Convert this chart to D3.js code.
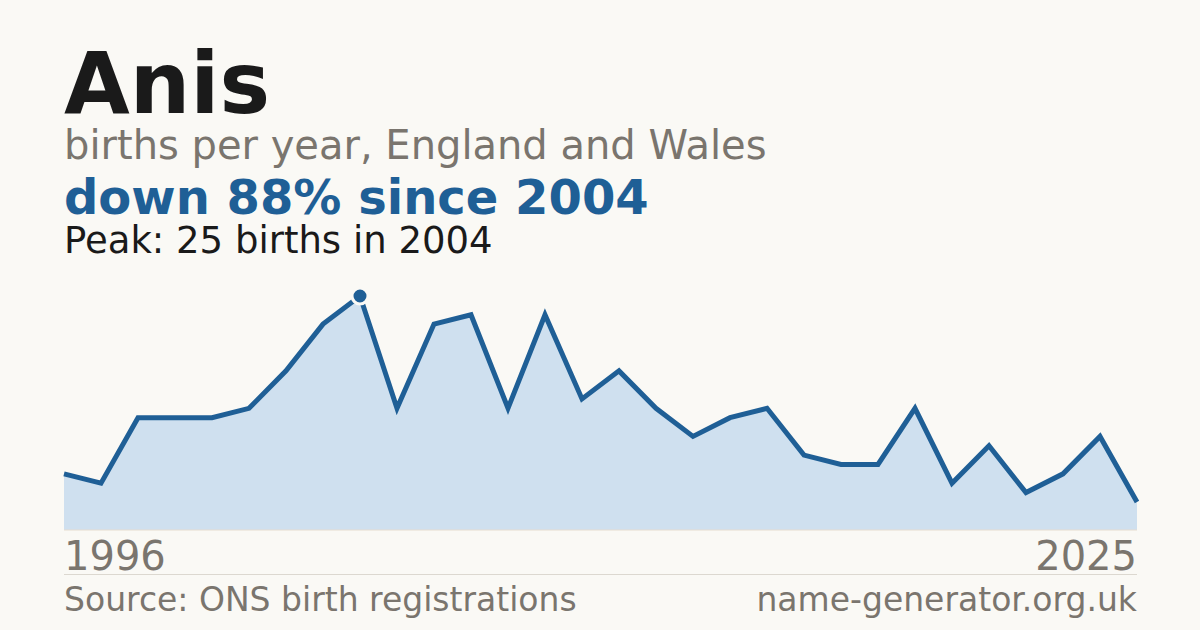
<!DOCTYPE html>
<html>
<head>
<meta charset="utf-8">
<script src="https://cdn.jsdelivr.net/npm/d3@7"></script>
<style>
  html, body { margin: 0; padding: 0; background: #faf9f5; }
  svg { display: block; font-family: "DejaVu Sans", sans-serif; }
</style>
</head>
<body>
<svg id="chart" width="1200" height="630"></svg>
<script>
const years = d3.range(1996, 2026);
const births = [6, 5, 12, 12, 12, 13, 17, 22, 25, 13, 22, 23, 13, 23, 14, 17, 13, 10, 12, 13, 8, 7, 7, 13, 5, 9, 4, 6, 10, 3];
const babyName = 'Anis';
const subtitle = 'births per year, England and Wales';
const headline = 'down 88% since 2004';
const peakNote = 'Peak: 25 births in 2004';
const sourceNote = 'Source: ONS birth registrations';
const siteNote = 'name-generator.org.uk';

const svg = d3.select('#chart');
const plotLeft = 64, plotRight = 1137, plotTop = 296, plotBottom = 530;

const x = d3.scaleLinear().domain([years[0], years[years.length - 1]]).range([plotLeft, plotRight]);
const y = d3.scaleLinear().domain([0, d3.max(births)]).range([plotBottom, plotTop]);

const data = years.map((yr, i) => ({ year: yr, value: births[i] }));

// header text
svg.append('text').attr('x', 64).attr('y', 113)
  .attr('font-size', 85).attr('font-weight', 'bold').attr('fill', '#1a1a1a').text(babyName);
svg.append('text').attr('x', 64).attr('y', 159)
  .attr('font-size', 40).attr('fill', '#7a756e').text(subtitle);
svg.append('text').attr('x', 64).attr('y', 214)
  .attr('font-size', 48).attr('font-weight', 'bold').attr('fill', '#1f5f96').text(headline);
svg.append('text').attr('x', 64).attr('y', 253)
  .attr('font-size', 37).attr('fill', '#1a1a1a').text(peakNote);

// area + line
const area = d3.area()
  .x(d => x(d.year))
  .y0(plotBottom)
  .y1(d => y(d.value));

const line = d3.line()
  .x(d => x(d.year))
  .y(d => y(d.value));

svg.append('path').datum(data)
  .attr('d', area)
  .attr('fill', '#cfe0ef');

svg.append('line')
  .attr('x1', plotLeft).attr('x2', plotRight)
  .attr('y1', plotBottom).attr('y2', plotBottom)
  .attr('stroke', '#e6ddd0').attr('stroke-width', 1);

svg.append('path').datum(data)
  .attr('d', line)
  .attr('fill', 'none')
  .attr('stroke', '#1f5f96')
  .attr('stroke-width', 5)
  .attr('stroke-linejoin', 'miter');

// peak marker
const peak = data.reduce((a, b) => (b.value > a.value ? b : a));
svg.append('circle')
  .attr('cx', x(peak.year)).attr('cy', y(peak.value)).attr('r', 8)
  .attr('fill', '#1f5f96').attr('stroke', '#faf9f5').attr('stroke-width', 3);

// year labels
svg.append('text').attr('x', plotLeft).attr('y', 570)
  .attr('font-size', 40).attr('fill', '#7a756e').text(years[0]);
svg.append('text').attr('x', plotRight).attr('y', 570).attr('text-anchor', 'end')
  .attr('font-size', 40).attr('fill', '#7a756e').text(years[years.length - 1]);

// footer
svg.append('line')
  .attr('x1', plotLeft).attr('x2', plotRight)
  .attr('y1', 574.5).attr('y2', 574.5)
  .attr('stroke', '#dcd8d0').attr('stroke-width', 1);
svg.append('text').attr('x', plotLeft).attr('y', 611)
  .attr('font-size', 33).attr('fill', '#7a756e').text(sourceNote);
svg.append('text').attr('x', plotRight).attr('y', 611).attr('text-anchor', 'end')
  .attr('font-size', 33).attr('fill', '#7a756e').text(siteNote);
</script>
</body>
</html>
